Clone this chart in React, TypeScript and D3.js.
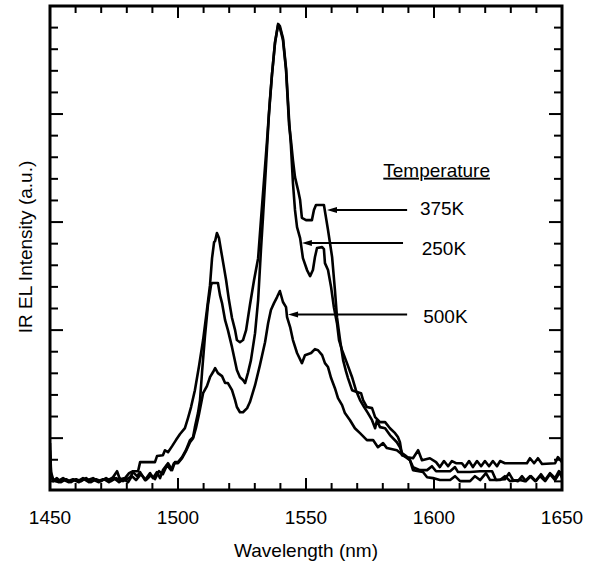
import React from "react";
import * as d3 from "d3";

// ---------- data (wavelength nm, IR EL intensity a.u.) ----------
const wavelengthTicks = [1450, 1500, 1550, 1600, 1650];
const wavelengthDomain: [number, number] = [1450, 1650];
const intensityDomain: [number, number] = [-2.4, 20];

const series375K: [number, number][] = [
  [1450.0, -0.23], [1450.4, -1.57], [1451.2, -1.9], [1453.1, -1.99], [1455.1, -1.85], [1457.0, -1.99],
  [1459.0, -1.9], [1460.9, -1.99], [1462.9, -1.85], [1464.8, -1.94], [1466.8, -1.85], [1468.8, -1.99],
  [1470.7, -1.9], [1472.7, -1.94], [1474.6, -1.81], [1476.2, -1.53], [1477.3, -1.9], [1479.3, -1.85],
  [1480.9, -1.62], [1482.4, -1.53], [1484.4, -1.53], [1485.2, -1.11], [1491.0, -1.11], [1491.8, -0.83],
  [1494.1, -0.79], [1494.9, -0.56], [1496.1, -0.65], [1497.7, -0.37], [1499.2, -0.09], [1500.8, 0.19],
  [1502.7, 0.46], [1503.9, 0.93], [1505.1, 1.44], [1506.6, 2.22], [1508.2, 3.33], [1509.8, 4.54],
  [1511.3, 5.93], [1512.5, 7.08], [1513.3, 8.33], [1514.1, 9.07], [1514.5, 9.12], [1515.2, 9.49],
  [1516.0, 9.26], [1516.8, 8.7], [1518.0, 7.87], [1518.8, 7.31], [1519.9, 6.39], [1521.1, 5.56],
  [1522.3, 5.0], [1523.0, 4.54], [1524.2, 4.44], [1525.4, 4.54], [1526.6, 5.0], [1528.1, 6.16],
  [1529.7, 7.31], [1531.3, 8.33], [1532.4, 10.09], [1533.6, 11.94], [1534.8, 13.8], [1535.9, 15.65],
  [1536.7, 16.81], [1537.9, 18.33], [1539.1, 19.12], [1539.8, 18.98], [1541.0, 18.43], [1542.2, 17.04],
  [1543.4, 14.49], [1544.1, 13.8], [1544.9, 12.87], [1545.7, 12.08], [1546.9, 11.48], [1547.7, 11.02],
  [1548.4, 10.19], [1550.0, 10.09], [1552.3, 10.09], [1553.1, 10.56], [1553.9, 10.79], [1557.0, 10.79],
  [1558.6, 9.63], [1560.2, 8.38], [1561.3, 6.85], [1562.1, 5.6], [1563.3, 4.54], [1564.5, 3.61],
  [1565.6, 3.1], [1566.4, 2.78], [1568.0, 2.22], [1569.9, 2.13], [1571.5, 2.08], [1572.3, 1.76],
  [1573.8, 1.44], [1575.8, 1.39], [1577.0, 0.97], [1578.9, 0.74], [1580.9, 0.74], [1582.8, 0.46],
  [1584.8, 0.23], [1585.9, 0.05], [1586.7, -0.19], [1587.5, -0.79], [1589.8, -0.88], [1591.8, -0.93],
  [1593.8, -0.56], [1595.3, -1.02], [1598.4, -0.93], [1600.8, -1.11], [1602.3, -1.34], [1603.9, -1.06],
  [1605.5, -1.3], [1607.0, -1.06], [1608.6, -1.16], [1610.9, -1.16], [1612.1, -1.34], [1613.7, -1.06],
  [1615.2, -1.34], [1616.8, -1.06], [1618.4, -1.3], [1619.9, -1.06], [1621.5, -1.3], [1623.0, -1.06],
  [1624.6, -1.3], [1625.8, -1.06], [1627.7, -1.16], [1636.3, -1.16], [1637.5, -0.93], [1639.1, -1.16],
  [1640.6, -0.93], [1642.2, -1.2], [1647.3, -1.16], [1648.4, -0.88], [1650.0, -1.11],
];

const series250K: [number, number][] = [
  [1450.0, -0.56], [1450.4, -1.67], [1451.2, -1.99], [1452.7, -1.85], [1454.3, -2.04], [1456.3, -1.9],
  [1458.2, -2.04], [1460.2, -1.9], [1462.1, -1.99], [1464.1, -1.85], [1466.0, -2.04], [1468.0, -1.9],
  [1469.9, -1.99], [1471.9, -1.85], [1473.8, -1.99], [1475.8, -1.85], [1478.5, -1.99], [1481.3, -1.81],
  [1482.4, -1.57], [1484.0, -1.76], [1485.2, -1.57], [1487.1, -1.94], [1489.1, -1.62], [1490.2, -1.85],
  [1491.8, -1.57], [1493.0, -1.85], [1494.1, -1.48], [1496.1, -1.16], [1497.7, -1.48], [1498.8, -1.11],
  [1500.0, -1.11], [1501.6, -0.88], [1503.1, -0.56], [1504.7, -0.09], [1505.9, 0.05], [1506.6, 0.51],
  [1507.8, 1.16], [1508.6, 1.76], [1509.4, 3.06], [1510.5, 4.68], [1511.7, 6.16], [1512.9, 7.08],
  [1513.3, 7.18], [1515.6, 7.18], [1516.4, 6.62], [1517.2, 6.25], [1518.4, 5.46], [1519.5, 5.0],
  [1521.1, 4.21], [1523.0, 3.15], [1524.2, 2.82], [1525.4, 2.69], [1526.2, 2.55], [1527.3, 3.01],
  [1528.5, 3.61], [1530.1, 4.86], [1531.3, 6.39], [1532.4, 8.7], [1533.2, 10.23], [1534.4, 12.64],
  [1535.5, 14.95], [1536.7, 16.81], [1537.9, 18.29], [1539.1, 19.17], [1539.8, 19.07], [1541.0, 18.52],
  [1542.2, 17.13], [1543.4, 14.72], [1544.1, 13.56], [1544.9, 11.81], [1545.7, 10.56], [1546.5, 9.77],
  [1547.7, 9.26], [1548.8, 8.33], [1550.4, 7.78], [1551.6, 7.5], [1552.7, 7.78], [1553.5, 8.38],
  [1554.3, 8.8], [1556.3, 8.84], [1557.0, 8.75], [1557.4, 8.1], [1558.6, 7.78], [1559.8, 6.99],
  [1560.9, 6.06], [1562.1, 5.32], [1562.9, 4.54], [1564.1, 4.07], [1566.0, 3.47], [1568.0, 2.82],
  [1569.5, 2.22], [1571.1, 1.76], [1572.7, 1.44], [1574.2, 1.16], [1575.8, 0.83], [1577.0, 0.46],
  [1577.7, 0.83], [1578.9, 0.51], [1580.9, 0.46], [1582.8, 0.14], [1585.5, -0.19], [1586.7, -0.42],
  [1587.5, -0.69], [1588.7, -0.79], [1590.6, -1.02], [1591.8, -1.34], [1594.5, -1.48], [1597.3, -1.48],
  [1599.2, -1.3], [1600.8, -1.53], [1606.3, -1.53], [1608.2, -1.34], [1609.4, -1.57], [1614.1, -1.57],
  [1618.0, -1.53], [1622.7, -1.53], [1624.2, -1.94], [1627.7, -1.9], [1629.3, -1.62], [1630.9, -1.94],
  [1632.8, -1.99], [1634.4, -1.76], [1635.9, -1.99], [1637.9, -1.76], [1639.8, -1.99], [1641.8, -1.67],
  [1643.4, -1.94], [1645.3, -1.62], [1647.3, -1.85], [1648.8, -1.53], [1650.0, -1.76],
];

const series500K: [number, number][] = [
  [1450.0, -0.79], [1450.4, -1.76], [1451.2, -1.94], [1453.5, -2.04], [1455.5, -1.94], [1457.4, -2.04],
  [1459.4, -1.94], [1461.3, -2.04], [1463.3, -1.9], [1465.2, -2.04], [1467.2, -1.94], [1469.1, -2.04],
  [1471.1, -1.9], [1473.0, -2.04], [1475.0, -1.85], [1477.0, -2.04], [1478.9, -1.9], [1480.5, -2.04],
  [1482.0, -1.76], [1483.6, -1.94], [1485.5, -1.67], [1487.5, -1.94], [1489.5, -1.71], [1491.0, -1.9],
  [1492.6, -1.53], [1494.1, -1.67], [1495.7, -1.25], [1497.3, -1.48], [1498.4, -1.16], [1500.0, -1.16],
  [1501.6, -0.93], [1503.1, -0.6], [1504.7, -0.19], [1505.9, 0.0], [1507.0, 0.46], [1508.2, 1.11],
  [1509.8, 2.08], [1511.3, 2.41], [1512.5, 2.82], [1513.7, 3.06], [1514.5, 3.24], [1515.6, 3.01],
  [1517.2, 2.87], [1518.4, 2.55], [1519.5, 2.55], [1521.1, 2.22], [1522.3, 1.76], [1523.0, 1.44],
  [1524.2, 1.2], [1525.4, 1.2], [1527.0, 1.39], [1528.1, 1.67], [1530.1, 2.45], [1532.0, 3.38],
  [1534.0, 4.44], [1535.2, 5.32], [1536.3, 5.93], [1537.5, 6.25], [1538.7, 6.53], [1539.8, 6.81],
  [1541.0, 6.3], [1542.2, 6.06], [1542.6, 5.6], [1543.8, 5.14], [1544.9, 4.54], [1546.5, 3.94],
  [1548.4, 3.47], [1549.6, 3.84], [1552.0, 3.94], [1553.5, 4.12], [1554.7, 4.07], [1556.3, 3.84],
  [1557.4, 3.47], [1558.6, 3.29], [1559.8, 2.78], [1561.3, 2.31], [1562.5, 1.85], [1564.1, 1.53],
  [1565.2, 1.16], [1567.2, 0.83], [1569.1, 0.46], [1571.1, 0.23], [1573.8, -0.09], [1576.2, -0.09],
  [1578.1, -0.42], [1580.1, -0.23], [1581.6, -0.46], [1585.5, -0.56], [1587.9, -0.79], [1590.6, -1.02],
  [1591.8, -1.48], [1595.7, -1.57], [1597.3, -1.81], [1599.6, -1.85], [1602.3, -1.94], [1606.3, -1.94],
  [1608.2, -1.76], [1610.2, -1.99], [1614.1, -1.99], [1616.0, -1.76], [1618.0, -1.94], [1620.3, -1.62],
  [1621.9, -1.94], [1625.8, -1.94], [1627.7, -1.76], [1629.7, -1.99], [1633.6, -1.94], [1635.5, -1.99],
  [1637.5, -1.76], [1639.5, -1.99], [1641.4, -1.76], [1643.4, -1.99], [1645.3, -1.67], [1647.3, -1.94],
  [1649.2, -1.57], [1650.0, -1.85],
];

const seriesNames = ["375K", "250K", "500K"];
const seriesData = [series375K, series250K, series500K];

// annotation arrows: label, arrow tip wavelength, arrow tail wavelength, arrow level, label position
const arrowLabels = ["375K", "250K", "500K"];
const arrowTips = [1558.2, 1548.4, 1543.0];
const arrowTails = [1589.5, 1587.9, 1589.5];
const arrowLevels = [10.56, 9.03, 5.72];
const labelX = [1594.5, 1595.2, 1595.8];
const labelY = [10.32, 8.47, 5.34];
const legendTitle = "Temperature";
const legendTitlePos: [number, number] = [1580.2, 12.1];

const xTitle = "Wavelength (nm)";
const yTitle = "IR EL Intensity (a.u.)";

export default function App() {
  const W = 592;
  const H = 563;
  const left = 50, right = 562, top = 6, bottom = 490;
  const x = d3.scaleLinear().domain(wavelengthDomain).range([left, right]);
  const y = d3.scaleLinear().domain(intensityDomain).range([bottom, top]);
  const line = d3
    .line<[number, number]>()
    .x((d) => x(d[0]))
    .y((d) => y(d[1]));

  const xMinor = d3.range(1460, 1650, 10);
  const yMinor = d3.range(-2, 20, 1);
  const font = "'Liberation Sans', Arial, Helvetica, sans-serif";

  return (
    <svg
      width={W}
      height={H}
      viewBox={`0 0 ${W} ${H}`}
      style={{ position: "absolute", left: 0, top: 0, background: "#fff" }}
      fontFamily={font}
    >
      <defs>
        <clipPath id="plotClip">
          <rect x={left} y={top} width={right - left} height={bottom - top} />
        </clipPath>
        <marker
          id="arrowHead"
          viewBox="0 0 10 8"
          refX="0"
          refY="4"
          markerWidth="10"
          markerHeight="8"
          markerUnits="userSpaceOnUse"
          orient="auto-start-reverse"
        >
          <path d="M0,4 L10,1 L10,7 Z" fill="#000" />
        </marker>
      </defs>
      <rect x={0} y={0} width={W} height={H} fill="#fff" />

      {/* ticks */}
      <g stroke="#000" strokeWidth={2}>
        {xMinor.map((t) => {
          const major = t % 50 === 0;
          const len = major ? 12 : 7;
          return (
            <g key={"xt" + t}>
              <line x1={x(t)} x2={x(t)} y1={bottom} y2={bottom - len} />
              <line x1={x(t)} x2={x(t)} y1={top} y2={top + len} />
            </g>
          );
        })}
        {yMinor.map((t) => {
          const major = t % 5 === 0;
          const len = major ? 13 : 8;
          return (
            <g key={"yt" + t}>
              <line x1={left} x2={left + len} y1={y(t)} y2={y(t)} />
              <line x1={right} x2={right - len} y1={y(t)} y2={y(t)} />
            </g>
          );
        })}
      </g>

      {/* spectra */}
      <g clipPath="url(#plotClip)" fill="none" stroke="#000" strokeWidth={2.6} strokeLinejoin="round">
        {seriesData.map((s, i) => (
          <path key={seriesNames[i]} d={line(s) || ""} />
        ))}
      </g>

      {/* frame */}
      <rect
        x={left}
        y={top}
        width={right - left}
        height={bottom - top}
        fill="none"
        stroke="#000"
        strokeWidth={3}
      />

      {/* x tick labels */}
      <g fontSize={19} textAnchor="middle" fill="#000">
        {wavelengthTicks.map((t) => (
          <text key={"xl" + t} x={x(t)} y={524}>
            {t}
          </text>
        ))}
      </g>
      <text x={(left + right) / 2} y={557} fontSize={19} textAnchor="middle" fill="#000">
        {xTitle}
      </text>
      <text
        transform={`translate(32,${(top + bottom) / 2 - 1}) rotate(-90)`}
        fontSize={19}
        textAnchor="middle"
        fill="#000"
      >
        {yTitle}
      </text>

      {/* legend / annotations */}
      <text
        x={x(legendTitlePos[0])}
        y={y(legendTitlePos[1])}
        fontSize={19}
        fill="#000"
        textDecoration="underline"
      >
        {legendTitle}
      </text>
      {arrowLabels.map((lab, i) => (
        <g key={"ann" + lab}>
          <line
            x1={x(arrowTails[i])}
            x2={x(arrowTips[i]) + 9}
            y1={y(arrowLevels[i])}
            y2={y(arrowLevels[i])}
            stroke="#000"
            strokeWidth={2}
          />
          <path
            d={`M${x(arrowTips[i])},${y(arrowLevels[i])} l10,-3 l0,6 Z`}
            fill="#000"
          />
          <text x={x(labelX[i])} y={y(labelY[i])} fontSize={19} fill="#000">
            {lab}
          </text>
        </g>
      ))}
    </svg>
  );
}
